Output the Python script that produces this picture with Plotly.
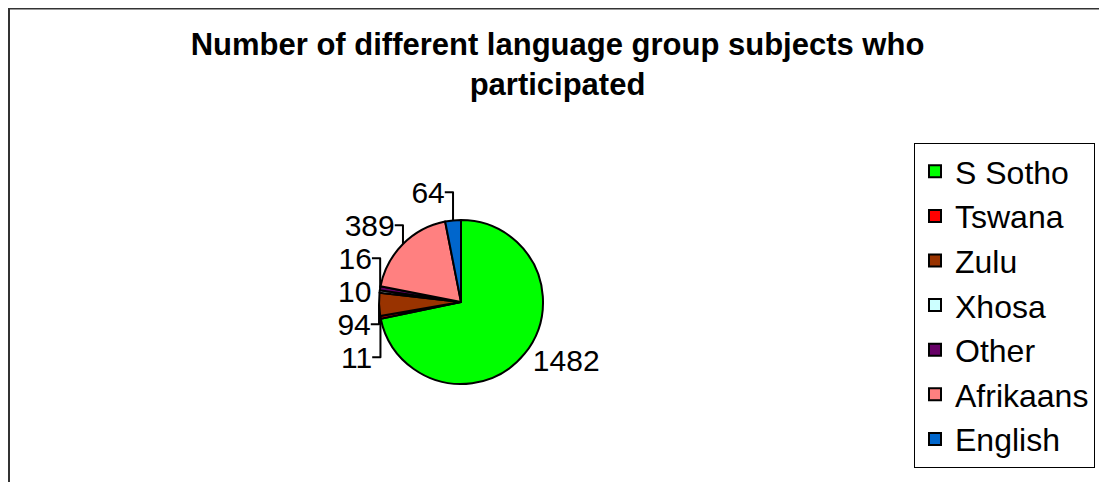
import plotly.graph_objects as go

# Data
languages = ["S Sotho", "Tswana", "Zulu", "Xhosa", "Other", "Afrikaans", "English"]
counts = [1482, 11, 94, 10, 16, 389, 64]
slice_colors = ["#00FF00", "#FF0000", "#993300", "#CCFFFF", "#660066", "#FF8080", "#0066CC"]

title_text = "Number of different language group subjects who<br>participated"

# the page body adds an 8px margin, so the figure is drawn 8px smaller
W, H = 1099, 474
FONT = "Liberation Sans, Arial, sans-serif"

fig = go.Figure()

fig.add_trace(go.Pie(
    labels=languages,
    values=counts,
    sort=False,
    direction="clockwise",
    rotation=0,
    marker=dict(colors=slice_colors, line=dict(color="black", width=2)),
    textinfo="value",
    textposition="outside",
    outsidetextfont=dict(family=FONT, size=30, color="black"),
    domain=dict(x=[371 / W, 535 / W], y=[98 / H, 262 / H]),
    hoverinfo="label+value+percent",
))

fig.update_layout(
    width=W,
    height=H,
    margin=dict(l=0, r=0, t=0, b=0),
    paper_bgcolor="white",
    plot_bgcolor="white",
    font=dict(family=FONT, color="black"),
    title=dict(
        text="<b>" + title_text + "</b>",
        font=dict(family=FONT, size=31, color="black"),
        x=0.5,
        xanchor="center",
        y=1 - 47 / H,
        yanchor="top",
    ),
    legend=dict(
        x=906 / W,
        y=1 - 135 / H,
        xanchor="left",
        yanchor="top",
        bordercolor="black",
        borderwidth=1,
        bgcolor="white",
        font=dict(family=FONT, size=32, color="black"),
    ),
    shapes=[
        # outer chart frame (bottom edge runs off the picture)
        dict(type="rect", xref="paper", yref="paper",
             x0=1 / W, x1=1093 / W, y0=-0.2, y1=0.999,
             line=dict(color="#333333", width=2)),
    ],
)

fig.write_html("out.html")
